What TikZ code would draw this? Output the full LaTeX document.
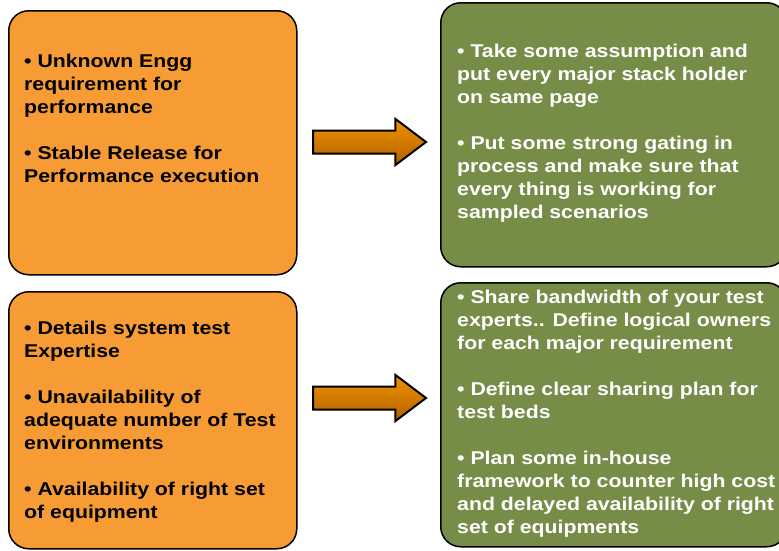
\documentclass[tikz,border=0pt]{standalone}
\usepackage{fontspec}
\setmainfont{Liberation Sans}[FakeStretch=1.15]
\usetikzlibrary{shapes.arrows, positioning}
\definecolor{issueorange}{HTML}{F79C34}
\definecolor{fixgreen}{HTML}{758D47}
\definecolor{arrowtop}{HTML}{F39200}
\definecolor{arrowbottom}{HTML}{B06200}

\tikzset{
  panel/.style={draw=black, line width=1.5pt, rounded corners=20pt, inner sep=0pt, anchor=north west},
  issue/.style={panel, fill=issueorange},
  fix/.style={panel, fill=fixgreen},
  bullets/.style={inner sep=0pt, align=left, font=\fontsize{18.5}{23}\selectfont\bfseries},
  flow/.style={single arrow, draw=black, line width=2pt, top color=arrowtop, bottom color=arrowbottom,
    minimum height=113pt, minimum width=0pt, inner xsep=0pt, inner ysep=10.5pt,
    single arrow head extend=11.5pt, single arrow tip angle=74, anchor=west}
}

\begin{document}
\begin{tikzpicture}[x=1pt,y=-1pt]
  \useasboundingbox (0,0) rectangle (779,550);
  \clip (0,0) rectangle (779,550);

  % challenges
  \node[issue, minimum width=288pt, minimum height=264pt] (gapA) at (8,10) {};
  \node[issue, minimum width=288pt, minimum height=257pt] (gapB) at (8,291) {};

  % mitigations
  \node[fix, minimum width=346pt, minimum height=264pt] (fixA) at (440,2) {};
  \node[fix, minimum width=346pt, minimum height=264pt] (fixB) at (440,282) {};

  \node[bullets, below right=44pt and 16pt of gapA.north west] (gapAtext) {%
    • Unknown Engg\\requirement for\\performance\\[23pt]
    • Stable Release  for\\Performance execution};
  \node[bullets, below right=30pt and 16pt of gapB.north west] (gapBtext) {%
    • Details system test\\Expertise\\[23pt]
    • Unavailability of\\adequate number of Test\\environments\\[23pt]
    • Availability of right set\\of equipment};
  \node[bullets, text=white, below right=42pt and 17pt of fixA.north west] (fixAtext) {%
    • Take some assumption and\\put every major stack holder\\on same page\\[23pt]
    • Put some strong gating in\\process and make sure that\\every thing is working for\\sampled scenarios};
  \node[bullets, text=white, below right=8pt and 17pt of fixB.north west] (fixBtext) {%
    • Share bandwidth of your test\\experts.. Define logical owners\\for each major requirement\\[23pt]
    • Define clear sharing plan for\\test beds\\[23pt]
    • Plan some in-house\\framework to counter high cost\\and delayed availability of right\\set of equipments};

  % block arrows
  \node[flow] (moveA) at (312,142) {};
  \node[flow] (moveB) at (312,398) {};
\end{tikzpicture}
\end{document}
